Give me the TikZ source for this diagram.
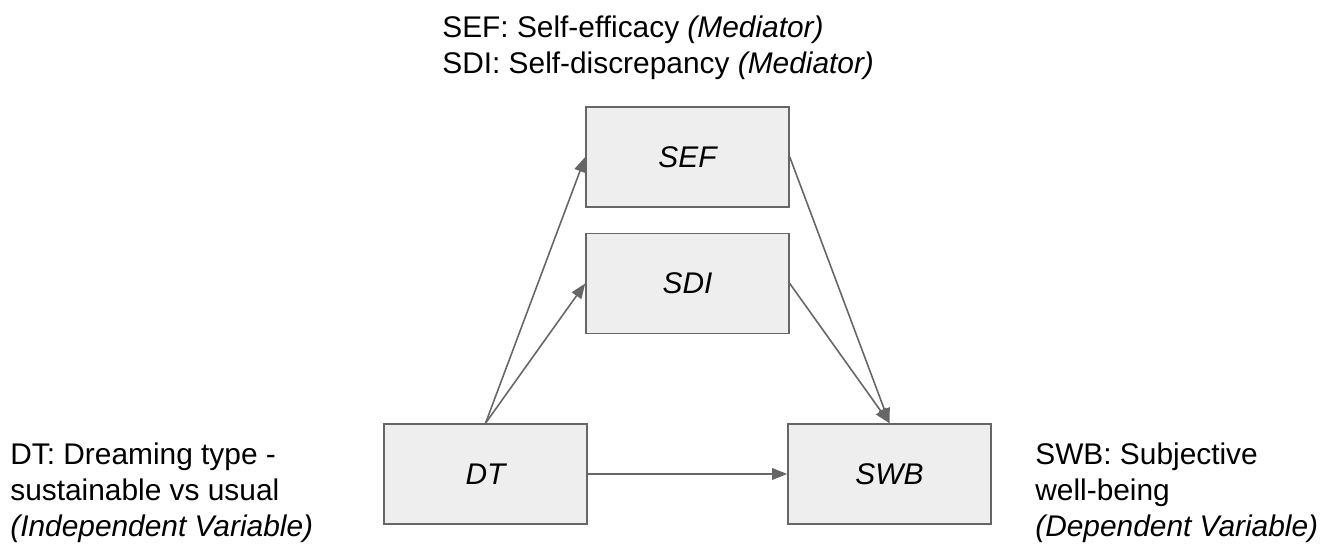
\documentclass[tikz,border=0pt]{standalone}
\usepackage{fontspec}
\setmainfont{Liberation Sans}
\usepackage{tikz}
\usetikzlibrary{arrows.meta}
\definecolor{BoxFill}{HTML}{EEEEEE}
\definecolor{BoxLine}{HTML}{666666}
\tikzset{varbox/.style={draw=BoxLine, fill=BoxFill, line width=0.9pt, rectangle, minimum width=4.06cm, minimum height=2cm, inner sep=0pt, font=\fontsize{17}{20.5}\selectfont\itshape},
legend/.style={anchor=base west, inner sep=0pt, font=\fontsize{17}{20.5}\selectfont},
link/.style={draw=BoxLine, line width=0.9pt, -{Triangle[length=3mm,width=2.3mm]}}}

\begin{document}
\begin{tikzpicture}[x=0.02cm,y=-0.02cm]
\useasboundingbox (0,0) rectangle (1337,549);

%%Boxes
\node[varbox] (SEF) at (687.5,157) {SEF};
\node[varbox] (SDI) at (687.5,283.5) {SDI};
\node[varbox] (DT) at (485.5,474) {DT};
\node[varbox] (SWB) at (889.5,474) {SWB};

%%Links
\draw[link] (DT.north) -- (SEF.west);
\draw[link] (DT.north) -- (SDI.west);
\draw[link] (SEF.east) -- (SWB.north);
\draw[link] (SDI.east) -- (SWB.north);
\draw[link] (DT.east) -- (SWB.west);

%%Legends
\node[legend] (l1) at (442,37) {SEF: Self-efficacy \textit{(Mediator)}};
\node[legend] (l2) at (442,73) {SDI: Self-discrepancy \textit{(Mediator)}};
\node[legend] (l3) at (10,464) {DT: Dreaming type -};
\node[legend] (l4) at (10,500) {sustainable vs usual};
\node[legend] (l5) at (10,536) {\textit{(Independent Variable)}};
\node[legend] (l6) at (1035,464) {SWB: Subjective};
\node[legend] (l7) at (1035,500) {well-being};
\node[legend] (l8) at (1035,536) {\textit{(Dependent Variable)}};
\end{tikzpicture}
\end{document}
